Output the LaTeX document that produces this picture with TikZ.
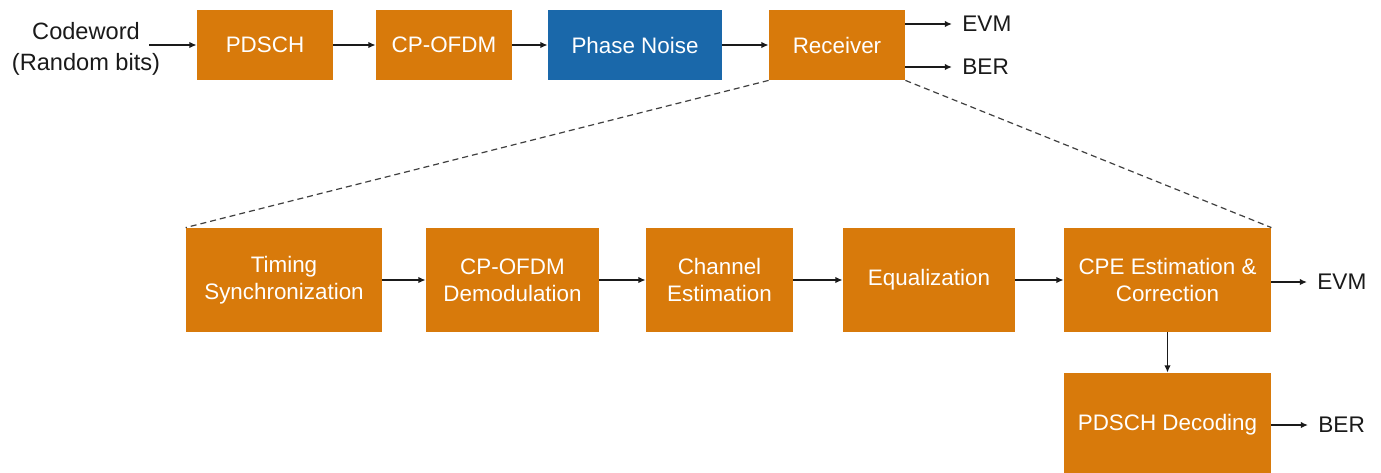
\documentclass[tikz,border=0pt]{standalone}
\usepackage{fontspec}
\setmainfont{Liberation Sans}
\usetikzlibrary{arrows.meta}
\definecolor{BlockOrange}{HTML}{D87A0B}
\definecolor{BlockBlue}{HTML}{1A68AA}
\definecolor{Ink}{HTML}{1A1A1A}
\definecolor{DashGray}{HTML}{404040}

\begin{document}
\begin{tikzpicture}[x=0.5pt,y=-0.5pt,>={Latex[length=3.6pt,width=3.2pt]},
  blk/.style={fill=BlockOrange,text=white,align=center,inner sep=0pt,
    font=\fontsize{11.2}{13.5}\selectfont},
  topblk/.style={blk,minimum height=35pt},
  subblk/.style={blk,minimum height=52pt},
  lbl/.style={text=Ink,anchor=west,inner xsep=5pt,font=\fontsize{11.3}{13.5}\selectfont},
  conn/.style={->,Ink,line width=0.7pt},
  zoomline/.style={DashGray,line width=0.6pt,dash pattern=on 3pt off 2pt}]
  \fill[white] (0,0) rectangle (1381,472);
  \useasboundingbox (0,0) rectangle (1381,472);
  \node[text=Ink,align=center,font=\fontsize{11.8}{15.5}\selectfont] (cw) at (86,49)
    {Codeword\\(Random bits)};
  \node[topblk,minimum width=68pt] (pdsch) at (265,45) {PDSCH};
  \node[topblk,minimum width=68pt] (ofdm) at (444,45) {CP-OFDM};
  \node[topblk,fill=BlockBlue,minimum width=87pt] (pn) at (635,45) {Phase Noise};
  \node[topblk,minimum width=68pt] (rx) at (837,45) {Receiver};
  \node[lbl] (evma) at (952,24) {EVM};
  \node[lbl] (bera) at (952,67) {BER};
  \node[subblk,minimum width=98pt] (timing) at (284,280) {Timing\\Synchronization};
  \node[subblk,minimum width=86.5pt] (demod) at (512.5,280) {CP-OFDM\\Demodulation};
  \node[subblk,minimum width=73.5pt] (chest) at (719.5,280) {Channel\\Estimation};
  \node[subblk,minimum width=86pt] (eq) at (929,280) {Equalization};
  \node[subblk,minimum width=103.5pt] (cpe) at (1167.5,280) {CPE Estimation \&\\Correction};
  \node[subblk,minimum width=103.5pt] (dec) at (1167.5,425) {PDSCH Decoding};
  \node[lbl] (evmb) at (1307,282) {EVM};
  \node[lbl] (berb) at (1308,425) {BER};
  \draw[conn] ([xshift=-9pt]cw.east |- pdsch.west) -- (pdsch.west);
  \draw[conn] (pdsch) -- (ofdm);
  \draw[conn] (ofdm) -- (pn);
  \draw[conn] (pn) -- (rx);
  \draw[conn] (rx.east |- evma) -- (evma.west);
  \draw[conn] (rx.east |- bera) -- (bera.west);
  \draw[zoomline] (rx.south west) -- (timing.north west);
  \draw[zoomline] (rx.south east) -- (cpe.north east);
  \draw[conn] (timing) -- (demod);
  \draw[conn] (demod) -- (chest);
  \draw[conn] (chest) -- (eq);
  \draw[conn] (eq) -- (cpe);
  \draw[conn] (cpe.east |- evmb) -- (evmb.west);
  \draw[conn] (cpe) -- (dec);
  \draw[conn] (dec) -- (berb.west);
\end{tikzpicture}
\end{document}
